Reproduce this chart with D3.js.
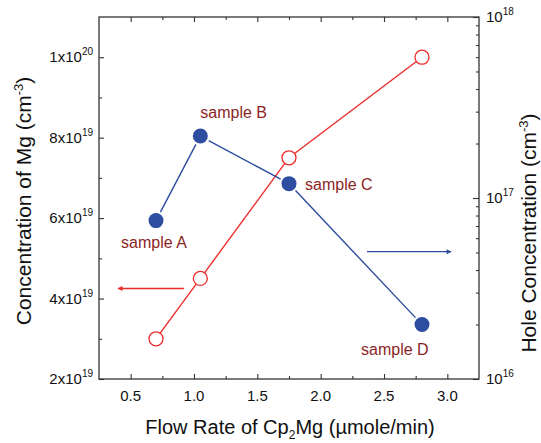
<!DOCTYPE html>
<html>
<head>
<meta charset="utf-8">
<script src="https://cdn.jsdelivr.net/npm/d3@7"></script>
<style>
  html, body { margin: 0; padding: 0; background: #fff; }
  svg { display: block; font-family: "Liberation Sans", Arial, Helvetica, sans-serif; }
</style>
</head>
<body>
<svg id="chart" width="541" height="443"></svg>
<script>
// Flow rate of Cp2Mg for each sample (µmole/min)
const flowRate = [0.7, 1.05, 1.75, 2.8];
const sampleNames = ["sample A", "sample B", "sample C", "sample D"];
// Mg concentration, left axis (cm^-3)
const mgConc = [3.0e19, 4.5e19, 7.5e19, 1.0e20];
// Hole concentration, right axis (cm^-3)
const holeConc = [7.5e16, 2.2e17, 1.2e17, 2.0e16];

// Axis ticks
const xMajor = [0.5, 1.0, 1.5, 2.0, 2.5, 3.0];
const xMinor = [0.75, 1.25, 1.75, 2.25, 2.75];
const xTickLabels = ["0.5", "1.0", "1.5", "2.0", "2.5", "3.0"];
const leftMajor = [2e19, 4e19, 6e19, 8e19, 1e20];
const leftMinor = [3e19, 5e19, 7e19, 9e19];
const leftTickLabels = [["2x10", "19"], ["4x10", "19"], ["6x10", "19"], ["8x10", "19"], ["1x10", "20"]];
const rightMajor = [1e16, 1e17, 1e18];
const rightTickLabels = [["10", "16"], ["10", "17"], ["10", "18"]];

// Sample label offsets (px) relative to each hole-concentration marker
const labelOffsets = [[-35, 27], [0, -18], [16, 6], [-61, 30]];

// Direction arrows: which axis each curve belongs to (data units)
const mgArrow = { from: [0.92, 4.25e19], to: [0.40, 4.25e19] };
const holeArrow = { from: [2.365, 5.05e16], to: [3.03, 5.05e16] };

const blue = "#2c4da0";
const red = "#ee2b2b";
const labelColor = "#8b2525";
const axisColor = "#333";

const margin = { left: 99, right: 62, top: 17, bottom: 64 };
const W = 541, H = 443;
const x0 = margin.left, x1 = W - margin.right;
const y0 = H - margin.bottom, y1 = margin.top;

const svg = d3.select("#chart");

const x = d3.scaleLinear().domain([0.25, 3.25]).range([x0, x1]);
const yL = d3.scaleLinear().domain([2e19, 1.1e20]).range([y0, y1]);
const yR = d3.scaleLog().domain([1e16, 1e18]).range([y0, y1]);

const rightMinor = [];
for (let e = 16; e < 18; e++) for (let m = 2; m <= 9; m++) rightMinor.push(m * Math.pow(10, e));

// Arrow heads
const defs = svg.append("defs");
function marker(id, color) {
  defs.append("marker")
    .attr("id", id).attr("viewBox", "0 0 10 10")
    .attr("refX", 9).attr("refY", 5)
    .attr("markerWidth", 7).attr("markerHeight", 5)
    .attr("markerUnits", "userSpaceOnUse")
    .attr("orient", "auto")
    .append("path").attr("d", "M0,0 L10,5 L0,10 z").attr("fill", color);
}
marker("headRed", red);
marker("headBlue", blue);

// Axes with inward ticks
function styleAxis(g) {
  g.select(".domain").remove();
  g.selectAll("line").attr("stroke", axisColor).attr("stroke-width", 1.1);
}
svg.append("g").attr("transform", `translate(0,${y0})`)
  .call(d3.axisTop(x).tickValues(xMajor).tickSize(5).tickFormat(""))
  .call(styleAxis);
svg.append("g").attr("transform", `translate(0,${y0})`)
  .call(d3.axisTop(x).tickValues(xMinor).tickSize(3).tickFormat(""))
  .call(styleAxis);
svg.append("g").attr("transform", `translate(0,${y1})`)
  .call(d3.axisBottom(x).tickValues(xMajor).tickSize(5).tickFormat(""))
  .call(styleAxis);
svg.append("g").attr("transform", `translate(0,${y1})`)
  .call(d3.axisBottom(x).tickValues(xMinor).tickSize(3).tickFormat(""))
  .call(styleAxis);
svg.append("g").attr("transform", `translate(${x0},0)`)
  .call(d3.axisRight(yL).tickValues(leftMajor).tickSize(5).tickFormat(""))
  .call(styleAxis);
svg.append("g").attr("transform", `translate(${x0},0)`)
  .call(d3.axisRight(yL).tickValues(leftMinor).tickSize(3).tickFormat(""))
  .call(styleAxis);
svg.append("g").attr("transform", `translate(${x1},0)`)
  .call(d3.axisLeft(yR).tickValues(rightMajor).tickSize(6).tickFormat(""))
  .call(styleAxis);
svg.append("g").attr("transform", `translate(${x1},0)`)
  .call(d3.axisLeft(yR).tickValues(rightMinor).tickSize(3).tickFormat(""))
  .call(styleAxis);

// Frame
svg.append("rect")
  .attr("x", x0).attr("y", y1).attr("width", x1 - x0).attr("height", y0 - y1)
  .attr("fill", "none").attr("stroke", axisColor).attr("stroke-width", 1.3);

// Tick labels
svg.append("g").selectAll("text").data(xMajor).join("text")
  .attr("x", d => x(d)).attr("y", y0 + 22)
  .attr("text-anchor", "middle").attr("font-size", 15).attr("fill", "#111")
  .text((d, i) => xTickLabels[i]);

function powLabel(sel, anchor) {
  sel.attr("text-anchor", anchor).attr("font-size", 15).attr("fill", "#111");
  sel.append("tspan").text(d => d.lab[0]);
  sel.append("tspan").attr("dy", -7).attr("font-size", 10).text(d => d.lab[1]);
}
svg.append("g").selectAll("text")
  .data(leftMajor.map((v, i) => ({ v, lab: leftTickLabels[i] })))
  .join("text")
  .attr("x", x0 - 6).attr("y", d => yL(d.v) + 5)
  .call(powLabel, "end");
svg.append("g").selectAll("text")
  .data(rightMajor.map((v, i) => ({ v, lab: rightTickLabels[i] })))
  .join("text")
  .attr("x", x1 + 7).attr("y", d => yR(d.v) + 5)
  .call(powLabel, "start");

// Axis titles
const fs = 20, fsSide = 21;
const tL = svg.append("text")
  .attr("transform", `translate(31,201) rotate(-90)`)
  .attr("text-anchor", "middle").attr("font-size", fsSide).attr("fill", "#111");
tL.append("tspan").text("Concentration of Mg (cm");
tL.append("tspan").attr("dy", -8).attr("font-size", 13).text("-3");
tL.append("tspan").attr("dy", 8).text(")");

const tR = svg.append("text")
  .attr("transform", `translate(536,233) rotate(-90)`)
  .attr("text-anchor", "middle").attr("font-size", fsSide).attr("fill", "#111");
tR.append("tspan").text("Hole Concentration (cm");
tR.append("tspan").attr("dy", -8).attr("font-size", 13).text("-3");
tR.append("tspan").attr("dy", 8).text(")");

const tB = svg.append("text")
  .attr("x", 290).attr("y", 434)
  .attr("text-anchor", "middle").attr("font-size", fs).attr("fill", "#111");
tB.append("tspan").text("Flow Rate of Cp");
tB.append("tspan").attr("dy", 5).attr("font-size", 12).text("2");
tB.append("tspan").attr("dy", -5).text("Mg (\u00b5mole/min)");

// Line segments trimmed at marker edges
function segments(px, py, gap) {
  const segs = [];
  for (let i = 0; i < px.length - 1; i++) {
    const ax = px[i], ay = py[i], bx = px[i + 1], by = py[i + 1];
    const len = Math.hypot(bx - ax, by - ay);
    const ux = (bx - ax) / len, uy = (by - ay) / len;
    segs.push([ax + ux * gap, ay + uy * gap, bx - ux * gap, by - uy * gap]);
  }
  return segs;
}

const rOpen = 7, rFill = 7.5;

// Mg concentration series (red, open circles)
const mgX = flowRate.map(x), mgY = mgConc.map(yL);
svg.append("g").selectAll("line").data(segments(mgX, mgY, rOpen)).join("line")
  .attr("x1", d => d[0]).attr("y1", d => d[1]).attr("x2", d => d[2]).attr("y2", d => d[3])
  .attr("stroke", red).attr("stroke-width", 1.4);
svg.append("g").selectAll("circle").data(flowRate).join("circle")
  .attr("cx", (d, i) => mgX[i]).attr("cy", (d, i) => mgY[i]).attr("r", rOpen)
  .attr("fill", "#fff").attr("stroke", red).attr("stroke-width", 1.3);

// Hole concentration series (blue, filled circles)
const hX = flowRate.map(x), hY = holeConc.map(yR);
svg.append("g").selectAll("line").data(segments(hX, hY, rFill + 2)).join("line")
  .attr("x1", d => d[0]).attr("y1", d => d[1]).attr("x2", d => d[2]).attr("y2", d => d[3])
  .attr("stroke", blue).attr("stroke-width", 1.4);
svg.append("g").selectAll("circle").data(flowRate).join("circle")
  .attr("cx", (d, i) => hX[i]).attr("cy", (d, i) => hY[i]).attr("r", rFill)
  .attr("fill", blue);

// Sample labels
svg.append("g").selectAll("text").data(sampleNames).join("text")
  .attr("x", (d, i) => hX[i] + labelOffsets[i][0])
  .attr("y", (d, i) => hY[i] + labelOffsets[i][1])
  .attr("font-size", 16).attr("fill", labelColor)
  .text(d => d);

// Axis-direction arrows
svg.append("line")
  .attr("x1", x(mgArrow.from[0])).attr("y1", yL(mgArrow.from[1]))
  .attr("x2", x(mgArrow.to[0])).attr("y2", yL(mgArrow.to[1]))
  .attr("stroke", red).attr("stroke-width", 1.3).attr("marker-end", "url(#headRed)");
svg.append("line")
  .attr("x1", x(holeArrow.from[0])).attr("y1", yR(holeArrow.from[1]))
  .attr("x2", x(holeArrow.to[0])).attr("y2", yR(holeArrow.to[1]))
  .attr("stroke", blue).attr("stroke-width", 1.3).attr("marker-end", "url(#headBlue)");
</script>
</body>
</html>
